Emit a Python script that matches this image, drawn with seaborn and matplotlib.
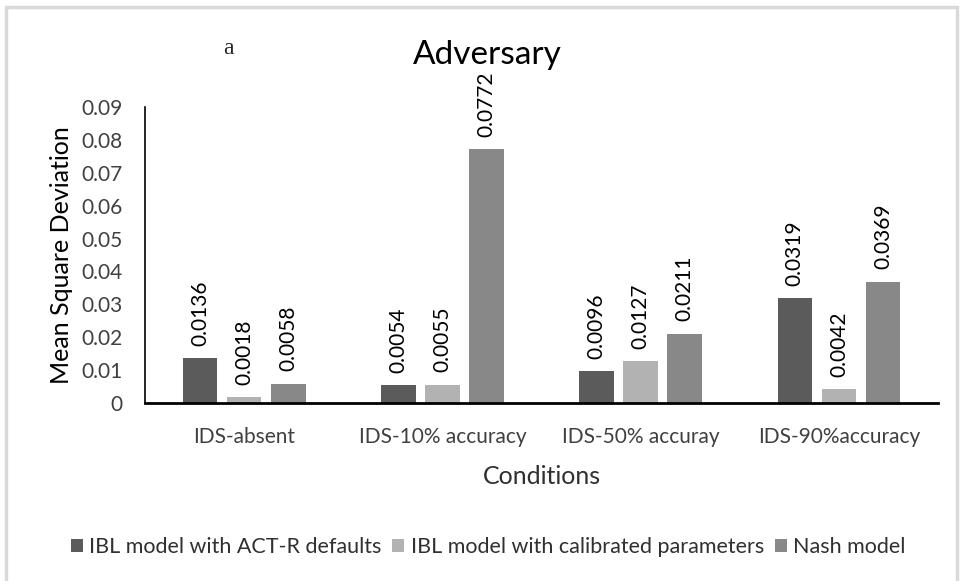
import seaborn as sns
import matplotlib.pyplot as plt
import pandas as pd
from matplotlib.patches import Rectangle

conditions = ['IDS-absent', 'IDS-10% accuracy', 'IDS-50% accuray', 'IDS-90%accuracy']
models = ['IBL model with ACT-R defaults', 'IBL model with calibrated parameters', 'Nash model']
actr_defaults = [0.0136, 0.0054, 0.0096, 0.0319]
calibrated = [0.0018, 0.0055, 0.0127, 0.0042]
nash = [0.0058, 0.0772, 0.0211, 0.0369]
colors = ['#5b5b5b', '#b2b2b2', '#888888']

rows = []
for m, vals in zip(models, [actr_defaults, calibrated, nash]):
    for c, v in zip(conditions, vals):
        rows.append({'Conditions': c, 'Model': m, 'MSD': v})
df = pd.DataFrame(rows)

sns.set_style('white')
plt.rcParams['font.family'] = ['Lato', 'DejaVu Sans']

fig = plt.figure(figsize=(9.63, 5.81), dpi=100)
# light grey frame around the chart area
fig.patches.append(Rectangle((6 / 963, -0.01), 951 / 963, 1 - 7 / 581 + 0.01,
                             transform=fig.transFigure, fill=False,
                             edgecolor='#d9d9d9', linewidth=2.5))
ax = fig.add_axes([0.1506, 0.3064, 0.8235, 0.5095])

sns.barplot(data=df, x='Conditions', y='MSD', hue='Model', palette=colors,
            width=0.667, gap=0.215, linewidth=0, ax=ax, legend=True)

for container, vals in zip(ax.containers, [actr_defaults, calibrated, nash]):
    ax.bar_label(container, labels=[f'{v:.4f}' for v in vals], rotation=90,
                 padding=9, fontsize=15, color='#000000')

ax.set_xlim(-0.5, 3.5)
ax.set_ylim(0, 0.09)
ax.set_yticks([i / 100 for i in range(10)])
ax.set_yticklabels(['0'] + [f'{i / 100:.2f}' for i in range(1, 10)])
ax.tick_params(axis='both', length=0, labelsize=15, colors='#404040')
ax.tick_params(axis='y', pad=16)
ax.tick_params(axis='x', pad=17)
for s in ['top', 'right']:
    ax.spines[s].set_visible(False)
ax.spines['left'].set_color('#000000')
ax.spines['left'].set_linewidth(1.2)
ax.spines['bottom'].set_color('#000000')
ax.spines['bottom'].set_linewidth(2)

ax.set_xlabel('Conditions', fontsize=18, color='#303030', labelpad=13)
ax.set_ylabel('Mean Square Deviation', fontsize=18, color='#000000', labelpad=6)

fig.text(0.5057, 0.905, 'Adversary', fontsize=24, ha='center', va='center', color='#000000')
fig.text(0.237, 0.917, 'a', fontsize=17, ha='center', va='center', family='Liberation Serif')

ax.get_legend().remove()
handles, labels = ax.get_legend_handles_labels()
fig.legend(handles, labels, loc='center', bbox_to_anchor=(0.507, 0.058), ncol=3,
           frameon=False, fontsize=15.5, handlelength=0.55, handleheight=0.55,
           handletextpad=0.3, columnspacing=0.5, labelcolor='#303030')

fig.savefig('out.png', dpi=100)
